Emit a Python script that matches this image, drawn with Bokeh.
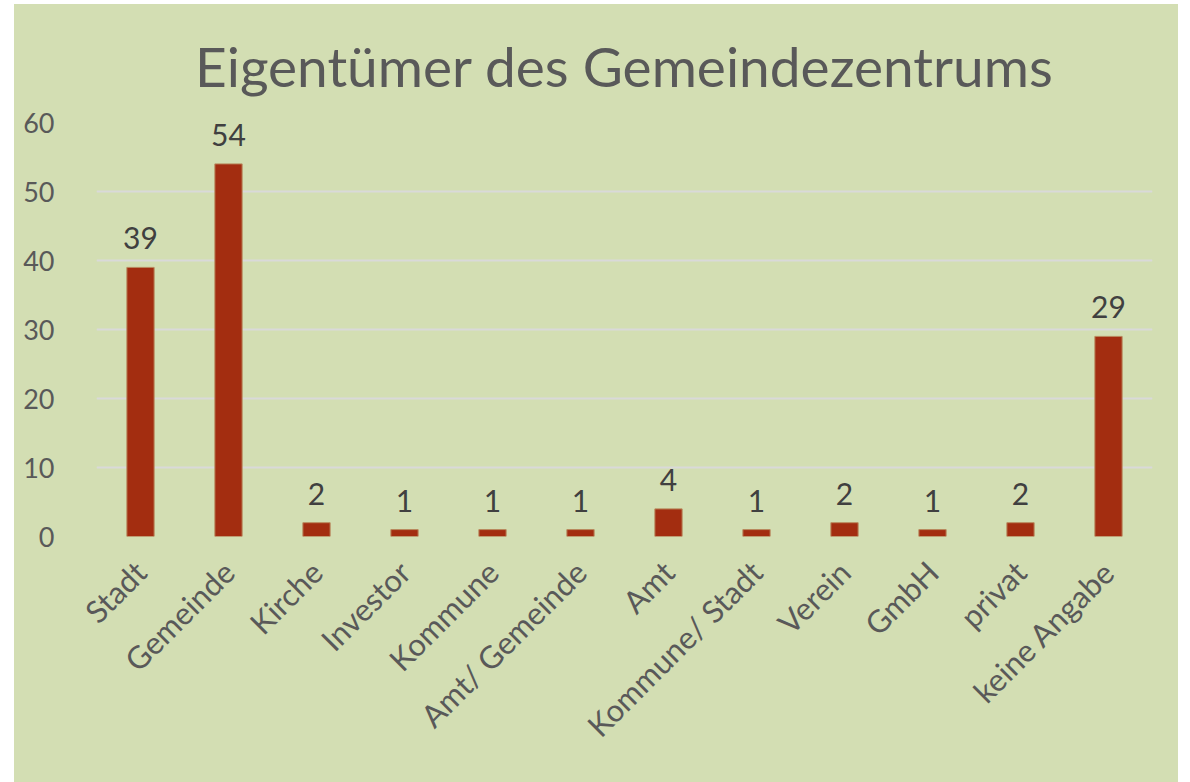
from bokeh.plotting import figure
from bokeh.models import ColumnDataSource, Range1d, Title, FixedTicker, Spacer
from bokeh.layouts import column, row
from bokeh.core.properties import value
from bokeh.embed import file_html
from bokeh.resources import INLINE
import math

title_text = "Eigentümer des Gemeindezentrums"
categories = ["Stadt", "Gemeinde", "Kirche", "Investor", "Kommune", "Amt/ Gemeinde",
              "Amt", "Kommune/ Stadt", "Verein", "GmbH", "privat", "keine Angabe"]
counts = [39, 54, 2, 1, 1, 1, 4, 1, 2, 1, 2, 29]
y_ticks = [0, 10, 20, 30, 40, 50, 60]

FONT = "Lato"
BG = "#d3deb3"

src = ColumnDataSource(dict(cat=categories, val=counts, lab=[str(v) for v in counts]))

p = figure(x_range=categories, y_range=Range1d(0, 60), width=1164, height=778,
           output_backend="svg", toolbar_location=None,
           min_border_left=82, min_border_right=26, min_border_top=118, min_border_bottom=246)
p.title = None
p.add_layout(Title(text=title_text, align="center", text_font=FONT, text_font_size="55px",
                   text_font_style="normal", text_color="#595959", standoff=48), "above")

p.background_fill_color = None
p.border_fill_color = None
p.styles = {"background-color": BG}
p.outline_line_color = None

p.vbar(x="cat", top="val", width=0.31, source=src, fill_color="#a32d10",
       line_color="#b98a5e", line_width=1)
p.text(x="cat", y="val", text="lab", source=src, text_align="center", text_baseline="bottom",
       y_offset=-18, text_font=value(FONT), text_font_size="30px", text_color="#404040")

p.yaxis.ticker = FixedTicker(ticks=y_ticks)
p.ygrid.ticker = FixedTicker(ticks=y_ticks)
p.ygrid.grid_line_color = "#d9d9d9"
p.ygrid.grid_line_width = 2
p.xgrid.grid_line_color = None

for ax in (p.xaxis[0], p.yaxis[0]):
    ax.axis_line_color = None
    ax.major_tick_line_color = None
    ax.minor_tick_line_color = None
    ax.major_label_text_font = FONT
    ax.major_label_text_color = "#595959"

p.yaxis.major_label_text_font_size = "27px"
p.xaxis.major_label_text_font_size = "31px"
p.yaxis.major_label_standoff = 36
p.xaxis.major_label_standoff = 24
p.xaxis.major_label_orientation = math.pi / 4

layout = column(Spacer(height=4), row(Spacer(width=14), p))
open("out.html", "w").write(file_html(layout, INLINE))
